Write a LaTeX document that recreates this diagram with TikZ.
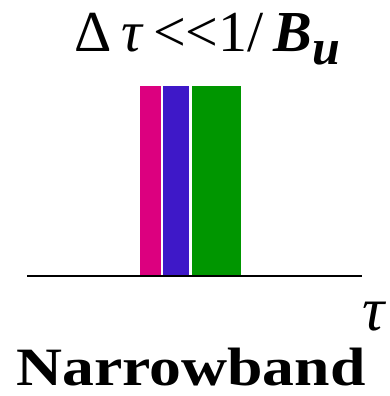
\documentclass[tikz,border=0pt]{standalone}
\usepackage{fontspec}
\newfontfamily\timesfont{Liberation Serif}
\definecolor{pulsepink}{RGB}{220,0,127}
\definecolor{pulseblue}{RGB}{62,24,200}
\definecolor{pulsegreen}{RGB}{0,150,0}
\tikzset{pulse/.style={fill=#1, draw=none},
  label text/.style={anchor=base, inner sep=0pt, font=\timesfont}}
\begin{document}
\begin{tikzpicture}[x=1pt,y=-1pt]
\useasboundingbox (0,0) rectangle (389,396);
% Draw pulses
\fill[pulse=pulsepink] (139.5,86) rectangle (160.5,275);
\fill[pulse=pulseblue] (163.3,86) rectangle (189,275);
\fill[pulse=pulsegreen] (191.7,86) rectangle (240.7,275);

% Draw axis
\draw[line width=2pt] (27,275.5) -- (362,275.5);

% Labels
\node[label text] (title) at (207,52) {\fontsize{58}{60}\selectfont
  Δ\,\textit{τ}\,{<}{<}1/\,\textbf{\textit{B}}\raisebox{-13pt}{\fontsize{50}{50}\selectfont\textbf{\textit{u}}}};
\node[label text] (tau) at (375,330) {\fontsize{62}{62}\selectfont\textit{τ}};
\node[label text] (name) at (191,385) {\fontsize{54}{60}\selectfont\bfseries\scalebox{1.18}[1]{Narrowband}};
\end{tikzpicture}
\end{document}
